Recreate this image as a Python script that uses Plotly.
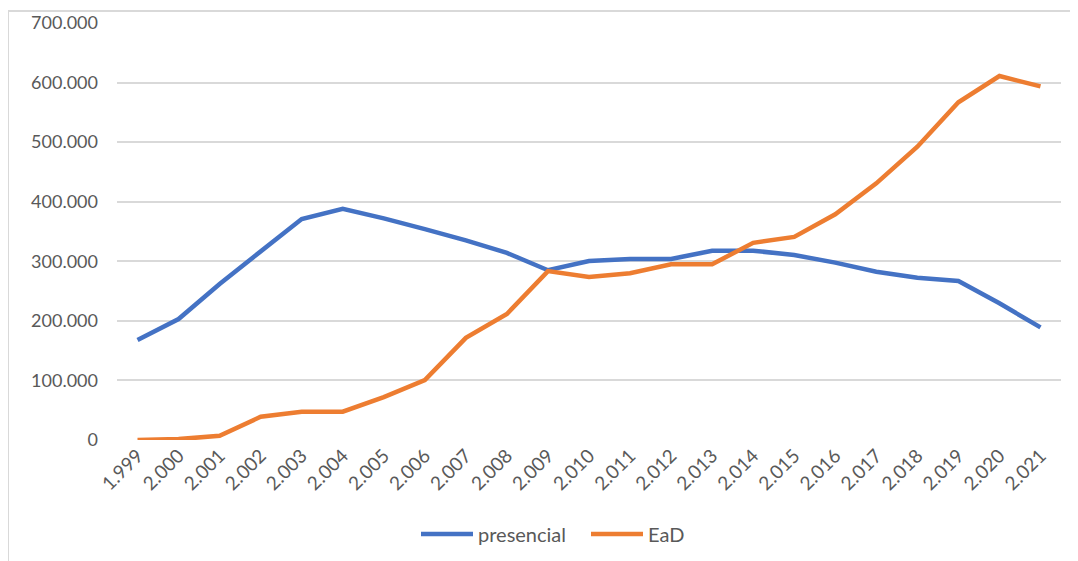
import plotly.graph_objects as go

year_labels = ["1.999", "2.000", "2.001", "2.002", "2.003", "2.004", "2.005", "2.006",
               "2.007", "2.008", "2.009", "2.010", "2.011", "2.012", "2.013", "2.014",
               "2.015", "2.016", "2.017", "2.018", "2.019", "2.020", "2.021"]

presencial = [168000, 203000, 262000, 317000, 371000, 388000, 372000, 354000,
              335000, 314000, 285000, 300500, 304000, 304000, 317500, 317800,
              310500, 297700, 282500, 272500, 267000, 229500, 189000]

ead = [0, 1500, 7000, 39000, 47500, 47500, 72000, 100500,
       171500, 211500, 283500, 273600, 280000, 295000, 295000, 331000,
       341000, 378800, 430900, 492400, 567000, 611000, 593500]

y_ticks = [0, 100000, 200000, 300000, 400000, 500000, 600000, 700000]
y_tick_labels = ["0", "100.000", "200.000", "300.000", "400.000", "500.000", "600.000", "700.000"]

font_family = "Lato, 'Open Sans', sans-serif"
text_color = "#595959"

fig = go.Figure()
fig.add_trace(go.Scatter(x=year_labels, y=presencial, name="presencial", mode="lines",
                         line=dict(color="#4472C4", width=4.5)))
fig.add_trace(go.Scatter(x=year_labels, y=ead, name="EaD", mode="lines",
                         line=dict(color="#ED7D31", width=4.5)))

# page body has an 8px margin: work in screen pixels and convert
OFF = 8
W, H = 1078, 561
L, T = 117 - OFF, 23 - OFF
R = W - (1061 - OFF)
B = H - (440 - OFF)
pw, ph = W - L - R, H - T - B

def px_x(x):
    return (x - OFF - L) / pw

def px_y(y):
    return (H - B - (y - OFF)) / ph

fig.update_layout(
    width=W, height=H,
    margin=dict(l=L, r=R, t=T, b=B, autoexpand=False),
    paper_bgcolor="white", plot_bgcolor="white",
    font=dict(family=font_family, size=18, color=text_color),
    showlegend=True,
    legend=dict(orientation="h", x=px_x(416), xanchor="left", y=px_y(534), yanchor="middle",
                font=dict(size=20, color=text_color), itemwidth=52, tracegroupgap=0,
                entrywidth=103, entrywidthmode="pixels"),
    xaxis=dict(type="category", showgrid=False, zeroline=False, showline=False,
               tickangle=-45, tickfont=dict(size=19, color=text_color),
               ticks="", range=[-0.5, 22.5], automargin=False),
    yaxis=dict(range=[0, 700000], tickvals=y_ticks, ticktext=y_tick_labels,
               showgrid=True, gridcolor="#D9D9D9", gridwidth=2, zeroline=False,
               showline=False, ticks="", tickfont=dict(size=18, color=text_color),
               ticklabelstandoff=18, automargin=False),
    shapes=[
        dict(type="line", xref="paper", yref="paper", x0=px_x(8), x1=px_x(1090),
             y0=px_y(11), y1=px_y(11), line=dict(color="#D9D9D9", width=2)),
        dict(type="line", xref="paper", yref="paper", x0=px_x(8), x1=px_x(8),
             y0=px_y(11), y1=px_y(575), line=dict(color="#D9D9D9", width=2)),
    ],
)

fig.write_html("out.html")
